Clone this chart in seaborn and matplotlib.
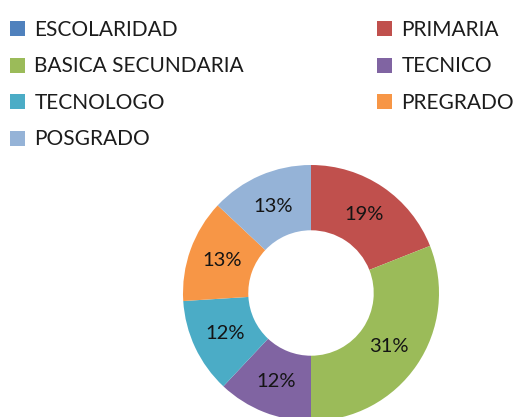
import matplotlib
matplotlib.use("Agg")
import matplotlib.pyplot as plt
import seaborn as sns
from matplotlib.patches import Patch

categories = ["ESCOLARIDAD", "PRIMARIA", "BASICA SECUNDARIA", "TECNICO",
              "TECNOLOGO", "PREGRADO", "POSGRADO"]
values = [0, 19, 31, 12, 12, 13, 13]
colors = ["#4F81BD", "#C0504D", "#9BBB59", "#8064A2", "#4BACC6", "#F79646", "#95B3D7"]

sns.set_theme(style="white")
plt.rcParams["font.family"] = ["Lato", "DejaVu Sans"]

fig = plt.figure(figsize=(5.31, 4.17), dpi=100)
ax = fig.add_axes([183 / 531, -4 / 417, 256 / 531, 256 / 417])

pie_vals = [v for v in values if v > 0]
pie_cols = [c for v, c in zip(values, colors) if v > 0]
wedges, texts, autotexts = ax.pie(
    pie_vals, colors=pie_cols, startangle=90, counterclock=False,
    autopct=lambda p: f"{p:.0f}%", pctdistance=0.74,
    wedgeprops=dict(width=0.51, edgecolor="none", linewidth=0),
    textprops=dict(fontsize=14.5, color="#141414"), radius=1.0)
ax.set_xlim(-1, 1)
ax.set_ylim(-1, 1)
ax.set_aspect("equal")
ax.axis("off")

handles = [Patch(facecolor=c, edgecolor="none") for c in colors]
col1 = [0, 2, 4, 6]
col2 = [1, 3, 5]
leg_kw = dict(frameon=False, fontsize=15, handlelength=0.72, handleheight=0.72,
              handletextpad=0.45, labelspacing=0.79, labelcolor="#1c1c1c",
              borderaxespad=0, borderpad=0)
l1 = fig.legend([handles[i] for i in col1], [categories[i] for i in col1],
                loc="upper left", bbox_to_anchor=(10 / 531, 1 - 20 / 417), **leg_kw)
l2 = fig.legend([handles[i] for i in col2], [categories[i] for i in col2],
                loc="upper left", bbox_to_anchor=(377 / 531, 1 - 20 / 417), **leg_kw)

fig.savefig("out.png", dpi=100)
